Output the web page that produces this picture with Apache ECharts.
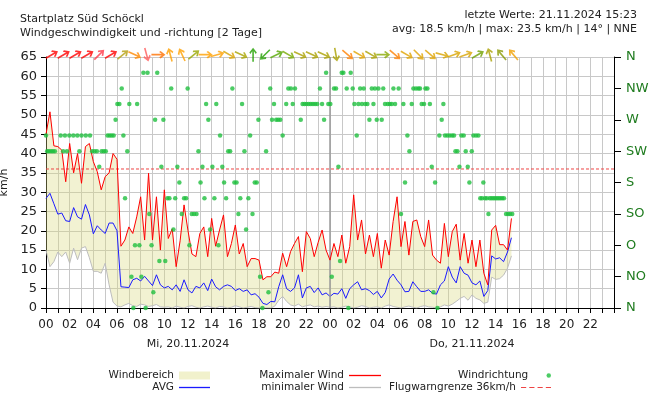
<!DOCTYPE html>
<html><head><meta charset="utf-8">
<script src="https://cdn.jsdelivr.net/npm/echarts/dist/echarts.min.js"></script>
<style>html,body{margin:0;padding:0;background:#fff}#c{width:650px;height:400px}</style>
</head><body><div id="c"></div>
<script>
// ---- data (20-minute samples starting 20.11.2024 00:00) ----
const maxWind = [
 45,50.8,42, 41.8,40.9,32.7, 42.6,35,40, 32.3,41.8,42.6, 37.9,35.3,30.6, 34,35,40,
 38.5,16,17.6, 21,19.3,23.6, 28.8,17.6,34.9, 17.6,28.8,15, 30.6,18,20.5, 10.7,17.4,26.7,
 20,14,13.3, 19.3,21,13.3, 23.2,16,20.2, 24.1,13.3,16.7, 21.5,14,16.7, 10.7,12.8,12.8,
 12.4,7.3,8.1, 8.1,9.3,9, 14.2,10.7,14.6, 16.7,18.5,9.4, 19.8,18,13.3, 17,20.2,15,
 12.4,16.7,13.3, 18.9,11.6,15.9, 29.3,17.6,22.8, 14,18.9,13.3, 19.3,10.3,17.6, 13.7,22.4,28.8,
 15.9,22.4,13.7, 22.4,22.8,18.5, 15.9,22.8,13.7, 12.4,11.6,21.9, 13.3,19.8,21.7, 12.4,19.3,11.6,
 17.6,10.7,17.6, 9,6,20.2, 21.4,16.4,16.4, 15,23.2
];
const avgWind = [
 28.4,29.7,27, 24.3,24.6,22.6, 22.4,26,23.6, 23,26.8,24.1, 19.2,21.3,20.2, 19.3,22,22,
 20,5.5,5.4, 5.3,7.3,7.7, 7,8.2,7, 5.8,8.6,6, 5.2,5.6,4.7, 6,4.3,7.3,
 4.7,3.9,5.6, 5.2,6.5,4.5, 7.5,5.5,4.7, 5.6,6,5.6, 4.5,5,4.3, 4.7,3.4,3.7,
 2.8,1.2,0.9, 1.7,1.6,5.5, 8.6,5,4.3, 5.2,8.6,2.6, 5.2,5.6,4, 5.2,3.4,3.9,
 3,3.8,3.6, 5,2.5,5, 6,6.8,4.7, 5,4.5,3.5, 4.3,2.6,4, 7.5,8.8,7.2,
 6,4.2,4.3, 6.8,5.5,4.3, 4.3,4.7,3.8, 3.6,6,7, 10.7,8,6.5, 10.7,9,8.5,
 6.5,6,7, 3,4.5,13.5, 12.7,13,12, 14.5,18.2
];
const minWind = [
 15,10.7,12, 14.5,13.3,14.5, 11.6,15.5,12.5, 15.5,15.9,13, 9.5,9.5,9, 11.6,6,1.5,
 0.5,0.3,0.8, 1.2,0.6,0.4, 1,0.8,0.4, 0.6,0.9,0.3, 0.2,0.3,0, 0.5,0.2,0,
 0.4,0.6,0.2, 0,0.3,0.5, 0.2,0,0.4, 0.3,0,0.2, 0.6,0.3,0, 0.2,0.4,0.1,
 0,0,0, 0,0.5,2, 3,1.7,0.8, 0.5,1,0.3, 0.6,0.8,0.3, 0.5,0.2,0.4,
 0.2,0.3,0, 0.2,0.5,0.3, 0,0.2,0.6, 0.4,0,0.2, 0.3,0,0.5, 0.8,0.4,0.2,
 0,0.3,0.5, 0.2,0,0.4, 0.6,0.3,0.2, 0,0.3,0.8, 0.5,1,1.7, 2.5,3,2,
 3.4,2.5,2.1, 1.2,1.5,8, 7.4,7.6,8.5, 10.3,13.5
];
const sampleStepHours = 1 / 3;

// wind direction samples: [hour since 20.11. 00:00, degrees]
const windDir = [
 [0,247.5],[0.1,225],[0.25,225],[0.42,225],[0.58,225],[0.75,225],[1.24,247.5],[1.45,225],[1.6,247.5],[1.77,225],
 [1.97,247.5],[2.31,247.5],[2.65,247.5],[2.82,225],[3.0,247.5],[3.36,247.5],[3.72,247.5],[3.9,225],[4.1,225],[4.3,225],
 [4.5,202.5],[4.7,225],[4.88,225],[5.05,225],[5.2,247.5],[5.38,247.5],[5.55,247.5],[5.72,247.5],
 [5.88,270],[6.03,292.5],[6.2,292.5],[6.4,315],[6.54,247.5],[6.68,157.5],[6.87,225],[7.04,292.5],[7.22,45],[7.38,0],
 [7.52,90],[7.7,292.5],[7.89,90],[8.06,45],[8.23,337.5],[8.42,0],[8.58,337.5],[8.73,135],[8.92,90],[9.07,22.5],
 [9.22,270],[9.4,337.5],[9.58,67.5],[9.75,202.5],[9.92,270],[10.08,67.5],
 [10.26,157.5],[10.43,157.5],[10.58,315],[10.77,112.5],[10.92,157.5],[11.1,202.5],[11.27,180],[11.47,135],[11.67,157.5],[11.84,157.5],
 [11.97,315],[12.12,90],[12.32,135],[12.51,135],[12.72,135],[12.88,225],[13.06,180],[13.22,202.5],[13.39,157.5],[13.53,292.5],
 [13.72,270],[13.87,112.5],[14.06,202.5],[14.23,157.5],[14.39,292.5],[14.57,90],[14.71,247.5],[14.9,202.5],[15.05,180],[15.22,157.5],
 [15.4,225],[15.56,225],[15.75,315],[15.92,180],[16.1,180],[16.26,135],[16.42,157.5],[16.57,292.5],[16.77,225],[16.91,112.5],
 [17.1,157.5],[17.25,247.5],[17.45,135],[17.64,180],[17.81,180],[17.95,270],[18.09,45],[18.29,0],[18.6,225],[18.8,22.5],
 [18.95,315],[19.1,270],[19.27,292.5],[19.45,270],[19.62,270],[19.8,270],[20.0,247.5],
 [20.3,292.5],[20.48,315],[20.7,315],[20.85,292.5],[21.04,315],[21.53,270],[21.68,292.5],[21.84,292.5],[22.02,292.5],[22.2,292.5],
 [22.38,292.5],[22.56,292.5],[22.74,292.5],[22.92,292.5],[23.15,315],[23.33,292.5],[23.5,270],[23.67,337.5],[23.86,292.5],[24.03,292.5],
 [24.15,45],[24.34,315],[24.51,315],[24.71,202.5],[24.85,67.5],[24.99,337.5],[25.13,337.5],[25.41,315],[25.55,0],[25.75,337.5],
 [25.92,315],[26.06,292.5],[26.26,247.5],[26.4,292.5],[26.55,315],[26.7,292.5],[26.85,315],[26.98,292.5],[27.16,292.5],[27.33,270],
 [27.53,315],[27.67,292.5],[27.8,315],[27.95,270],[28.09,315],[28.37,270],[28.5,315],[28.65,292.5],[28.88,292.5],[29.05,292.5],
 [29.22,292.5],[29.36,315],[29.5,292.5],[29.8,315],[30.0,135],
 [30.2,292.5],[30.34,180],[30.54,247.5],[30.71,225],[30.91,292.5],[31.05,315],[31.27,315],[31.47,315],[31.61,315],[31.75,292.5],
 [31.95,292.5],[32.06,315],[32.23,315],[32.44,292.5],[32.6,202.5],[32.74,22.5],[32.88,180],[33.08,0],[33.24,247.5],[33.44,270],
 [33.58,292.5],[33.72,247.5],[33.92,247.5],[34.12,247.5],[34.32,247.5],[34.48,247.5],[34.6,225],[34.77,225],[34.94,202.5],[35.1,247.5],
 [35.3,247.5],[35.47,225],[35.64,202.5],[35.78,180],[35.98,225],[36.12,247.5],[36.34,247.5],[36.54,247.5],[36.7,157.5],[36.85,157.5],
 [36.96,180],[37.1,157.5],[37.25,157.5],[37.39,135],[37.5,157.5],[37.65,157.5],[37.8,157.5],[37.95,157.5],[38.1,157.5],[38.25,157.5],
 [38.4,157.5],[38.55,157.5],[38.7,157.5],[38.88,135],[39.05,135],[39.22,135],[39.4,135]
];

// hourly wind arrows (bearing the arrow points to)
const arrowHours = [0.5,1.5,2.5,3.5,4.5,5.5,6.5,7.5,8.5,9.5,10.5,11.5,12.5,13.5,14.5,15.5,16.5,17.5,18.5,19.5,
 20.5,21.5,22.5,23.5,24.5,25.5,26.5,27.5,28.5,29.5,30.5,31.5,32.5,33.5,34.5,35.5,36.5,37.5,38.5,39.5];
const arrowDir = [60,60,60,60,45,60,50,115,165,90,345,335,50,90,75,120,115,0,225,65,
 120,115,115,115,170,130,120,120,90,130,120,135,130,105,70,70,60,345,320,320];
const arrowColors = ['#ff0000','#ff0000','#ff0000','#ff0000','#ff3a4a','#ff0000','#b5a010','#ff8800','#ff5a5a','#ff7000',
 '#ffa000','#ffa000','#98a800','#ffa000','#ffa000','#d8a400','#a8a400','#22a000','#22a000','#55a800',
 '#77aa00','#aaa000','#aaa000','#aaa000','#aaa000','#ff8000','#e0a400','#aaa000','#88a800','#ff8000',
 '#e0a400','#e0a400','#e0a400','#d8a400','#d8a400','#d8a400','#70a000','#aaa000','#8a9a00','#f0a000'];

const dirLabels = ['N','NO','O','SO','S','SW','W','NW','N'];
const warnLimit = 36;
const dayStart = 24;
const dayLabels = {12: 'Mi, 20.11.2024', 36: 'Do, 21.11.2024'};
const lastTime = '21.11.2024 15:23', lastAvg = 18.5, lastMax = 23.5, lastDeg = 14, lastDirName = 'NNE';

// ---- chart ----
const F = 'DejaVu Sans';
const times = maxWind.map((_, i) => +(i * sampleStepHours).toFixed(4));
const pts = arr => arr.map((v, i) => [times[i], v]);

const chart = echarts.init(document.getElementById('c'), null, {renderer: 'canvas'});
const txt = {fontFamily: F, fontSize: 11, fontWeight: 'normal', color: '#222', lineHeight: 14};
function lg(name, right, top, extra) {
  return Object.assign({data: [name], right: right, top: top, align: 'right', padding: 0, itemGap: 0,
    selectedMode: false, textStyle: {fontFamily: F, fontSize: 10.5, color: '#222'}}, extra);
}
const arrowPath = 'path://M4.7,16L4.7,4.2L1.7,7.2L0,5.5L6,0L12,5.5L10.3,7.2L7.3,4.2L7.3,16Z';
const bandFill = 'rgba(219,219,126,0.35)';

chart.setOption({
  animation: false,
  backgroundColor: '#fff',
  title: [
    {text: 'Startplatz Süd Schöckl', left: 20, top: 12, padding: 0, textStyle: txt},
    {text: 'Windgeschwindigkeit und -richtung [2 Tage]', left: 20, top: 26, padding: 0, textStyle: txt},
    {text: 'letzte Werte: ' + lastTime, right: 13, top: 8, padding: 0, textStyle: txt},
    {text: 'avg: ' + lastAvg + ' km/h | max: ' + lastMax + ' km/h | ' + lastDeg + '° | ' + lastDirName, right: 13, top: 22, padding: 0, textStyle: txt}
  ],
  legend: [
    lg('Windbereich', 440, 370, {icon: 'rect', itemWidth: 31, itemHeight: 8,
       data: [{name: 'Windbereich', itemStyle: {color: '#f1f1cc'}}]}),
    lg('AVG', 440, 382, {icon: 'rect', itemWidth: 31, itemHeight: 1.3}),
    lg('Maximaler Wind', 269, 370, {icon: 'rect', itemWidth: 32, itemHeight: 1.3}),
    lg('minimaler Wind', 269, 382, {icon: 'rect', itemWidth: 32, itemHeight: 1.3}),
    lg('Windrichtung', 99, 370, {icon: 'circle', itemWidth: 31, itemHeight: 4.5}),
    lg('Flugwarngrenze 36km/h', 99, 382, {icon: 'path://M0,0h5v1h-5zM8,0h5v1h-5zM16,0h5v1h-5zM24,0h5v1h-5z', itemWidth: 30, itemHeight: 1.5})
  ],
  grid: {left: 46, right: 36, top: 57, bottom: 92, containLabel: false, outerBoundsMode: 'none'},
  xAxis: [{
    type: 'value', min: 0, max: 48, interval: 1,
    axisLine: {onZero: false, lineStyle: {color: '#000', width: 1}},
    axisTick: {length: 5, lineStyle: {color: '#000'}},
    axisLabel: {margin: 11, fontFamily: F, fontSize: 12, color: '#222',
      formatter: v => (v % 2 === 0 && v < 48) ? String(v % 24).padStart(2, '0') : ''},
    splitLine: {show: true, lineStyle: {color: '#c8c8c8', width: 1}}
  }, {
    type: 'value', min: 0, max: 48, interval: 12, position: 'bottom',
    axisLine: {show: false, onZero: false}, axisTick: {show: false}, splitLine: {show: false},
    axisLabel: {margin: 31, fontFamily: F, fontSize: 11, color: '#222', formatter: v => dayLabels[v] || ''}
  }],
  yAxis: [{
    type: 'value', min: 0, max: 65, interval: 5, position: 'left',
    name: 'km/h', nameLocation: 'middle', nameGap: 26, nameRotate: 90,
    nameTextStyle: {fontFamily: F, fontSize: 11, color: '#222'},
    axisLine: {show: true, onZero: false, lineStyle: {color: '#000'}},
    axisTick: {show: true, length: 5, lineStyle: {color: '#000'}},
    axisLabel: {margin: 9, fontFamily: F, fontSize: 13, color: '#222'},
    splitLine: {show: true, lineStyle: {color: '#c8c8c8', width: 1}}
  }, {
    type: 'value', min: 0, max: 360, interval: 45, position: 'right',
    axisLine: {show: true, onZero: false, lineStyle: {color: '#000'}},
    axisTick: {show: true, length: 7, lineStyle: {color: '#000'}},
    axisLabel: {margin: 12, fontFamily: F, fontSize: 13, color: '#1e7b1e', formatter: v => dirLabels[Math.round(v / 45)]},
    splitLine: {show: false}
  }],
  series: [
    {name: 'Windbereich', type: 'custom', data: [[0, 0]], z: 1, silent: true,
     itemStyle: {color: '#f1f1cc'},
     renderItem: (params, api) => {
       const top = maxWind.map((v, i) => api.coord([times[i], v]));
       const bottom = minWind.map((v, i) => api.coord([times[i], v])).reverse();
       return {type: 'polygon', shape: {points: top.concat(bottom)}, style: {fill: bandFill}};
     }},
    {name: 'minimaler Wind', type: 'line', data: pts(minWind), showSymbol: false, symbol: 'none',
     color: '#bdbdbd', lineStyle: {color: '#bdbdbd', width: 1}, z: 3},
    {name: 'AVG', type: 'line', data: pts(avgWind), showSymbol: false, symbol: 'none',
     color: '#1a1aff', lineStyle: {color: '#1a1aff', width: 1}, z: 4,
     markLine: {silent: true, symbol: 'none', label: {show: false}, animation: false,
       lineStyle: {color: '#9a9a9a', width: 1.5, type: 'solid'}, data: [{xAxis: dayStart}]}},
    {name: 'Maximaler Wind', type: 'line', data: pts(maxWind), showSymbol: false, symbol: 'none',
     color: '#ff0000', lineStyle: {color: '#ff0000', width: 1}, z: 5},
    {name: 'Flugwarngrenze 36km/h', type: 'line', data: [[0, warnLimit], [48, warnLimit]], showSymbol: false, symbol: 'none',
     color: '#ee4444', lineStyle: {color: '#ee4444', width: 1, type: [3, 2]}, z: 2},
    {name: 'Windrichtung', type: 'scatter', yAxisIndex: 1, data: windDir, symbol: 'circle', symbolSize: 4.5,
     color: '#1fbf3f', itemStyle: {color: '#1fbf3f'}, z: 6, clip: false},
    {name: 'arrows', type: 'scatter', yAxisIndex: 0, clip: false, z: 7,
     symbol: arrowPath, symbolSize: [10, 14], symbolKeepAspect: true,
     data: arrowHours.map((h, k) => ({value: [h, 65.6], symbolRotate: -arrowDir[k], itemStyle: {color: arrowColors[k]}}))}
  ]
});
</script></body></html>
